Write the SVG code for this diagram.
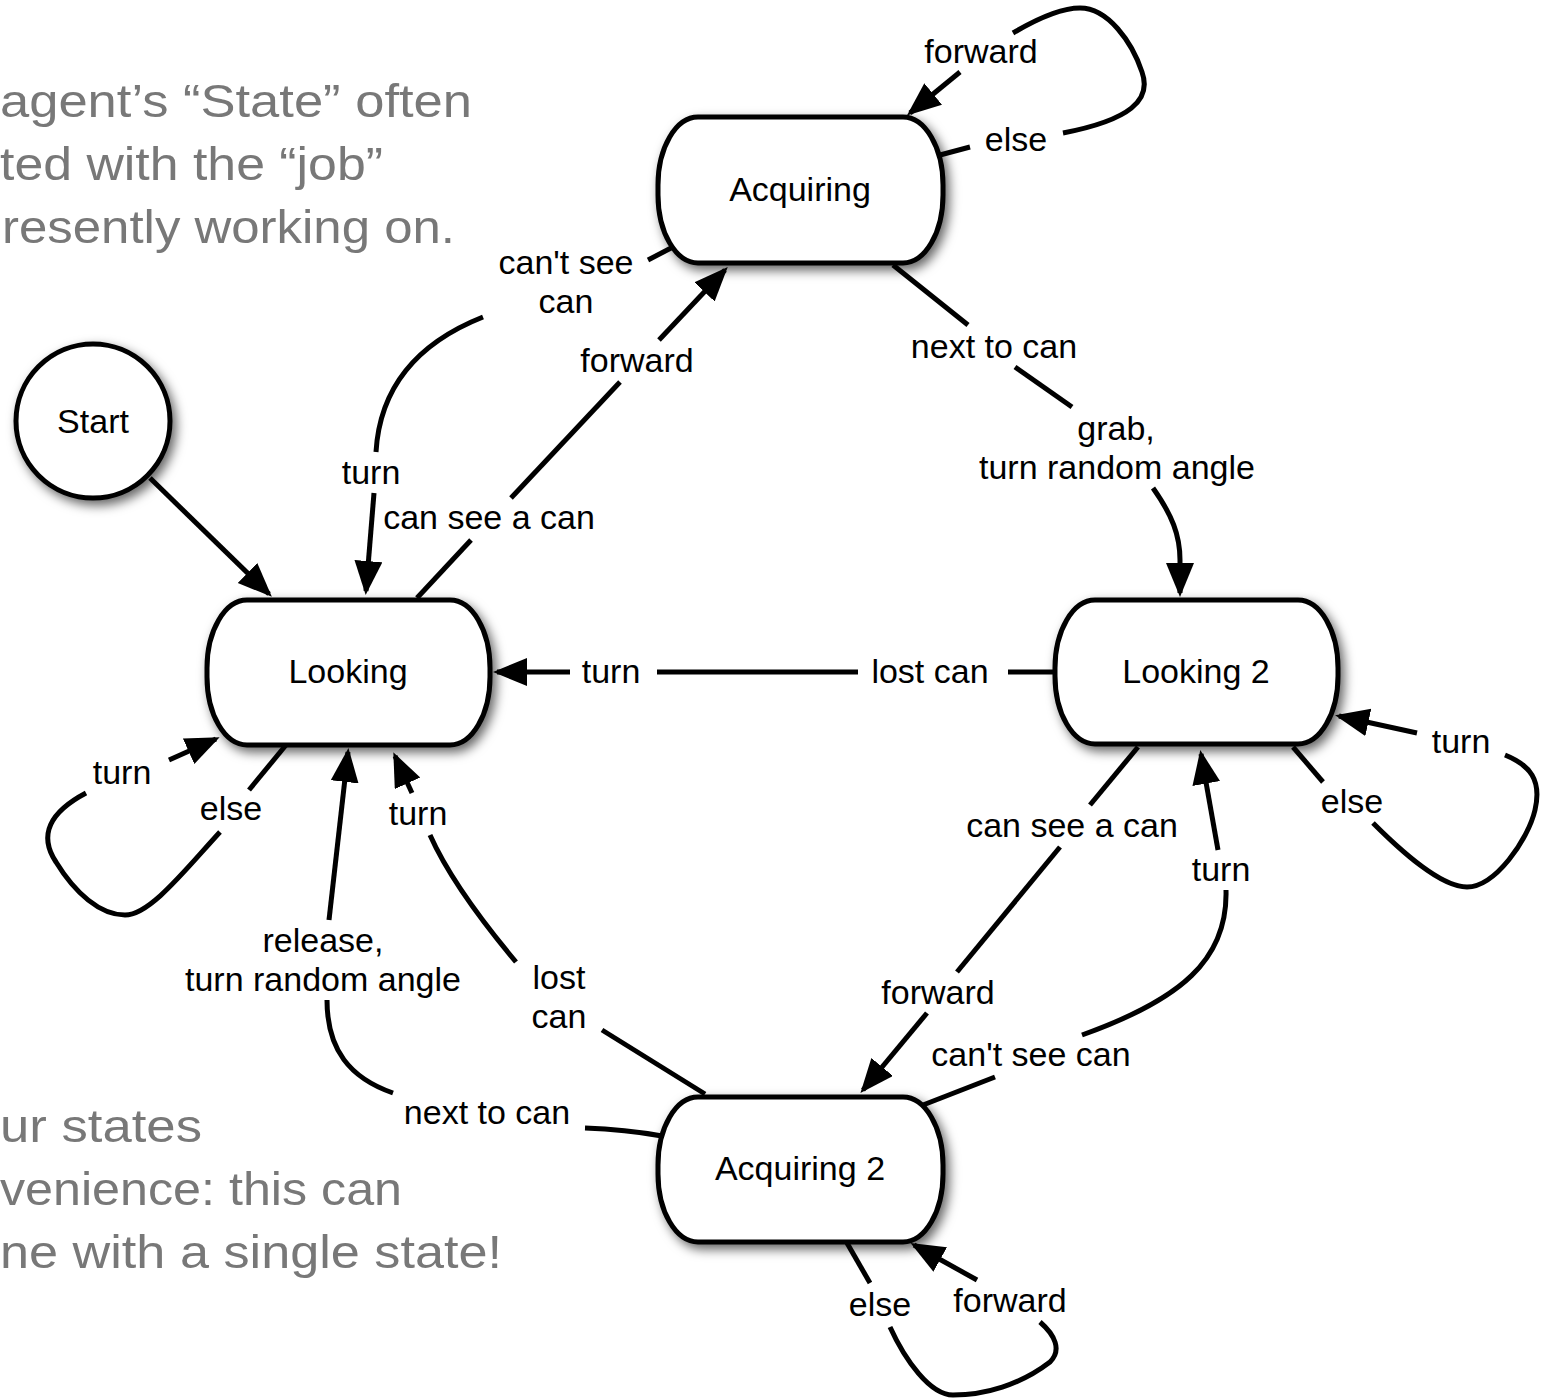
<svg xmlns="http://www.w3.org/2000/svg" width="1552" height="1398" viewBox="0 0 1552 1398">
  <style>
    .node { fill: #ffffff; stroke: #000000; stroke-width: 5; filter: url(#shadow); }
    .ntext { font-family: "Liberation Sans", Arial, Helvetica, sans-serif; font-size: 34px; fill: #000000; text-anchor: middle; }
    .edge { fill: none; stroke: #000000; stroke-width: 5; }
    .arrow { marker-end: url(#head); }
    .etext { font-family: "Liberation Sans", Arial, Helvetica, sans-serif; font-size: 34px; fill: #000000; text-anchor: middle; }
    .note { font-family: "Liberation Sans", Arial, Helvetica, sans-serif; font-size: 46px; fill: #787878; }
  </style>
  <defs>
    <filter id="shadow" x="-20%" y="-20%" width="150%" height="150%">
      <feDropShadow dx="4" dy="5" stdDeviation="5.5" flood-color="#000000" flood-opacity="0.6"/>
    </filter>
    <marker id="head" markerUnits="userSpaceOnUse" markerWidth="36" markerHeight="30" refX="30" refY="14" orient="auto">
      <path d="M0,0 L34,14 L0,28 z" fill="#000000"/>
    </marker>
  </defs>

  <rect width="1552" height="1398" fill="#ffffff"/>

  <!-- side notes -->
  <g id="notes">
    <text class="note" x="0" y="117" textLength="472" lengthAdjust="spacingAndGlyphs">agent’s “State” often</text>
    <text class="note" x="0" y="180" textLength="383" lengthAdjust="spacingAndGlyphs">ted with the “job”</text>
    <text class="note" x="2" y="243" textLength="453" lengthAdjust="spacingAndGlyphs">resently working on.</text>
    <text class="note" x="0" y="1142" textLength="202" lengthAdjust="spacingAndGlyphs">ur states</text>
    <text class="note" x="0" y="1205" textLength="402" lengthAdjust="spacingAndGlyphs">venience: this can</text>
    <text class="note" x="0" y="1268" textLength="502" lengthAdjust="spacingAndGlyphs">ne with a single state!</text>
  </g>

  <!-- transitions -->
  <g id="connectors">
    <!-- Start -> Looking -->
    <path class="edge arrow" d="M150 478 L269 594"/>

    <!-- Looking -> Acquiring : can see a can / forward -->
    <path class="edge" d="M417 598 L471 540"/>
    <path class="edge" d="M511 498 L620 382"/>
    <path class="edge arrow" d="M659 340 L725 270"/>

    <!-- Acquiring -> Looking : can't see can / turn -->
    <path class="edge" d="M673 247 L648 260"/>
    <path class="edge" d="M483 317 C420 342 380 385 376 452"/>
    <path class="edge arrow" d="M374 493 L366 591"/>

    <!-- Acquiring self loop : else / forward -->
    <path class="edge" d="M940 155 L970 147"/>
    <path class="edge" d="M1063 133 C1130 120 1152 100 1142 72 C1132 42 1108 8 1080 8 C1060 8 1035 20 1013 33"/>
    <path class="edge arrow" d="M960 72 L910 113"/>

    <!-- Acquiring -> Looking 2 : next to can / grab -->
    <path class="edge" d="M893 265 L968 325"/>
    <path class="edge" d="M1015 367 L1072 407"/>
    <path class="edge arrow" d="M1153 488 C1172 515 1180 535 1180 560 L1180 593"/>

    <!-- Looking 2 -> Looking : lost can / turn -->
    <path class="edge" d="M1055 672 L1008 672"/>
    <path class="edge" d="M858 672 L657 672"/>
    <path class="edge arrow" d="M570 672 L497 672"/>

    <!-- Looking self loop : else / turn -->
    <path class="edge" d="M286 745 L249 790"/>
    <path class="edge" d="M220 832 C185 870 150 915 125 915 C100 915 75 893 56 862 C38 835 50 812 86 793"/>
    <path class="edge arrow" d="M169 760 L216 739"/>

    <!-- Acquiring 2 -> Looking : next to can / release -->
    <path class="edge" d="M662 1136 C640 1132 615 1129 585 1128"/>
    <path class="edge" d="M393 1093 C350 1078 327 1050 327 1000"/>
    <path class="edge arrow" d="M329 920 L348 752"/>

    <!-- Acquiring 2 -> Looking : lost can / turn -->
    <path class="edge" d="M705 1094 L602 1030"/>
    <path class="edge" d="M516 962 C485 925 450 880 430 835"/>
    <path class="edge arrow" d="M412 793 L395 756"/>

    <!-- Looking 2 -> Acquiring 2 : can see a can / forward -->
    <path class="edge" d="M1138 747 L1090 805"/>
    <path class="edge" d="M1060 847 L957 972"/>
    <path class="edge arrow" d="M927 1013 L863 1090"/>

    <!-- Acquiring 2 -> Looking 2 : can't see can / turn -->
    <path class="edge" d="M923 1105 L995 1077"/>
    <path class="edge" d="M1082 1035 C1180 1000 1228 960 1226 890"/>
    <path class="edge arrow" d="M1218 850 L1201 754"/>

    <!-- Looking 2 self loop : else / turn -->
    <path class="edge" d="M1293 747 L1323 782"/>
    <path class="edge" d="M1373 823 C1400 850 1440 887 1467 887 C1495 887 1528 840 1535 810 C1542 780 1530 765 1505 755"/>
    <path class="edge arrow" d="M1417 733 L1339 716"/>

    <!-- Acquiring 2 self loop : else / forward -->
    <path class="edge" d="M847 1243 L870 1283"/>
    <path class="edge" d="M890 1327 C905 1360 930 1395 953 1395 C985 1395 1020 1385 1050 1362 C1062 1350 1055 1335 1040 1322"/>
    <path class="edge arrow" d="M977 1280 L914 1245"/>

    <!-- transition labels -->
    <text class="etext" x="981" y="63">forward</text>
    <text class="etext" x="1016" y="151">else</text>
    <text class="etext" x="566" y="274">can't see</text>
    <text class="etext" x="566" y="313">can</text>
    <text class="etext" x="637" y="372">forward</text>
    <text class="etext" x="371" y="484">turn</text>
    <text class="etext" x="489" y="529">can see a can</text>
    <text class="etext" x="994" y="358">next to can</text>
    <text class="etext" x="1116" y="440">grab,</text>
    <text class="etext" x="1117" y="479">turn random angle</text>
    <text class="etext" x="611" y="683">turn</text>
    <text class="etext" x="930" y="683">lost can</text>
    <text class="etext" x="1461" y="753">turn</text>
    <text class="etext" x="1352" y="813">else</text>
    <text class="etext" x="122" y="784">turn</text>
    <text class="etext" x="231" y="820">else</text>
    <text class="etext" x="418" y="825">turn</text>
    <text class="etext" x="1072" y="837">can see a can</text>
    <text class="etext" x="1221" y="881">turn</text>
    <text class="etext" x="323" y="952">release,</text>
    <text class="etext" x="323" y="991">turn random angle</text>
    <text class="etext" x="559" y="989">lost</text>
    <text class="etext" x="559" y="1028">can</text>
    <text class="etext" x="938" y="1004">forward</text>
    <text class="etext" x="1031" y="1066">can't see can</text>
    <text class="etext" x="487" y="1124">next to can</text>
    <text class="etext" x="880" y="1316">else</text>
    <text class="etext" x="1010" y="1312">forward</text>
  </g>

  <!-- states -->
  <g id="start">
    <circle class="node" cx="93" cy="421" r="77"/>
    <text class="ntext" x="93" y="433">Start</text>
  </g>
  <g id="acquiring">
    <rect class="node" x="658" y="117" width="285" height="146" rx="40" ry="68"/>
    <text class="ntext" x="800" y="201">Acquiring</text>
  </g>
  <g id="looking">
    <rect class="node" x="207" y="600" width="283" height="145" rx="40" ry="68"/>
    <text class="ntext" x="348" y="683">Looking</text>
  </g>
  <g id="looking2">
    <rect class="node" x="1055" y="600" width="283" height="144" rx="40" ry="68"/>
    <text class="ntext" x="1196" y="683">Looking 2</text>
  </g>
  <g id="acquiring2">
    <rect class="node" x="658" y="1097" width="285" height="145" rx="40" ry="68"/>
    <text class="ntext" x="800" y="1180">Acquiring 2</text>
  </g>
</svg>
